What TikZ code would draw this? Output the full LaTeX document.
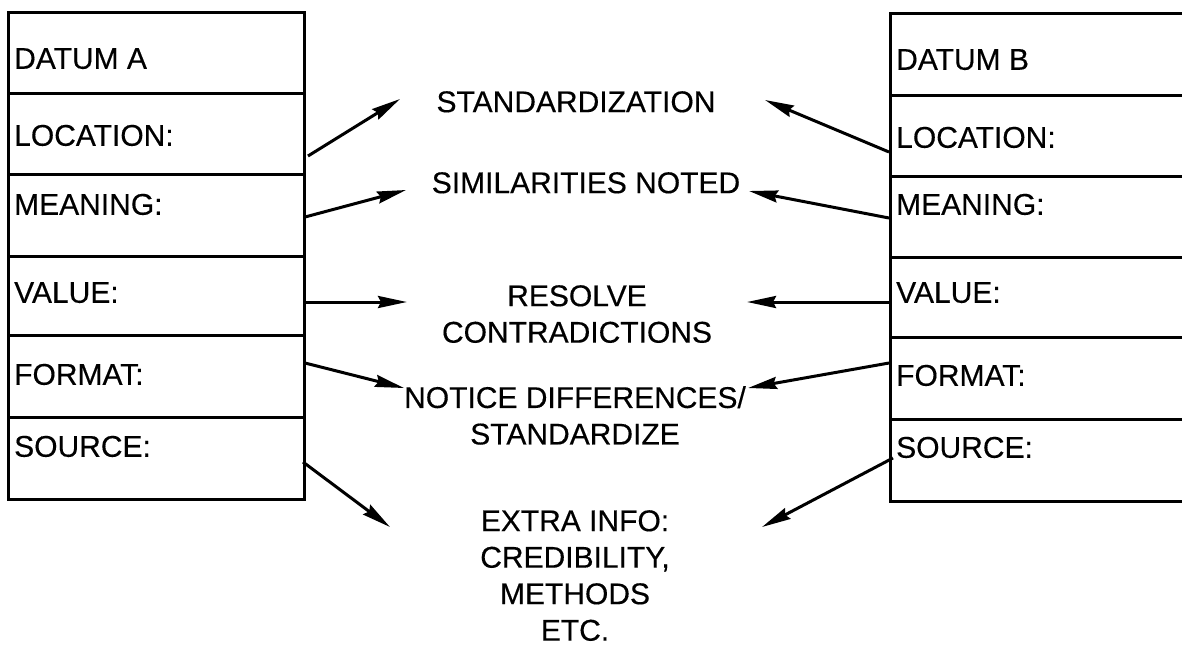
\documentclass[tikz,border=0pt]{standalone}
\usepackage{fontspec}
\setmainfont{Liberation Sans}[FakeBold=0.35]
\usetikzlibrary{arrows.meta}
\begin{document}
\begin{tikzpicture}[x=1pt,y=-1pt,
  grid/.style={line width=3pt, line cap=rect},
  lbl/.style={inner sep=0pt, anchor=west, text height=21.5pt, text depth=0pt,
              font=\fontsize{30}{36.5}\selectfont},
  ctr/.style={inner sep=0pt, align=center, font=\fontsize{30}{36.5}\selectfont},
  link/.style={line width=3pt, -{Stealth[length=29pt,width=12pt,inset=3pt]}}]
\useasboundingbox (0,0) rectangle (1182,649);

% record for datum A
\draw[grid] (8,12) rectangle (304,499);
\foreach \y in {93,174,256,335,417} \draw[grid] (8,\y) -- (304,\y);
% record for datum B (runs off the right side)
\draw[grid] (1220,13) -- (890,13) -- (890,501) -- (1220,501);
\foreach \y in {95,176,257,337,419} \draw[grid] (890,\y) -- (1220,\y);

% field labels, datum A
\node[lbl] (a0) at (14,58)  {DATUM A};
\node[lbl] (a1) at (14,135) {LOCATION:};
\node[lbl] (a2) at (14,204) {MEANING:};
\node[lbl] (a3) at (14,292) {VALUE:};
\node[lbl] (a4) at (14,374) {FORMAT:};
\node[lbl] (a5) at (14,446) {SOURCE:};

% field labels, datum B
\node[lbl] (b0) at (896,59)  {DATUM B};
\node[lbl] (b1) at (896,137) {LOCATION:};
\node[lbl] (b2) at (896,204) {MEANING:};
\node[lbl] (b3) at (896,292) {VALUE:};
\node[lbl] (b4) at (896,375) {FORMAT:};
\node[lbl] (b5) at (896,447) {SOURCE:};

% outcomes of the comparison
\node[ctr, anchor=north] (std) at (576,91)  {STANDARDIZATION};
\node[ctr, anchor=north] (sim) at (586,172) {SIMILARITIES NOTED};
\node[ctr, anchor=north] (res) at (577,285) {RESOLVE\\CONTRADICTIONS};
\node[ctr, anchor=north] (dif) at (575,386) {NOTICE DIFFERENCES/\\STANDARDIZE};
\node[ctr, anchor=north] (ext) at (575,510) {EXTRA INFO:\\CREDIBILITY,\\METHODS\\ETC.};

% arrow ends on the records
\coordinate (sa1) at (308,156);
\coordinate (sa2) at (305,217);
\coordinate (sa3) at (305,302);
\coordinate (sa4) at (305,363);
\coordinate (sa5) at (303,462);
\coordinate (sb1) at (889,152);
\coordinate (sb2) at (889,218);
\coordinate (sb3) at (890,302);
\coordinate (sb4) at (889,363);
\coordinate (sb5) at (893,458);
% arrow tips beside the outcomes
\coordinate (ta1) at (400,99);
\coordinate (ta2) at (406,190);
\coordinate (ta3) at (407,302);
\coordinate (ta4) at (404,388);
\coordinate (ta5) at (390,527);
\coordinate (tb1) at (765,100);
\coordinate (tb2) at (749,191);
\coordinate (tb3) at (747,302);
\coordinate (tb4) at (748,388);
\coordinate (tb5) at (762,527);

\foreach \i in {1,...,5} {
  \draw[link] (sa\i) -- (ta\i);
  \draw[link] (sb\i) -- (tb\i);
}
\end{tikzpicture}
\end{document}
